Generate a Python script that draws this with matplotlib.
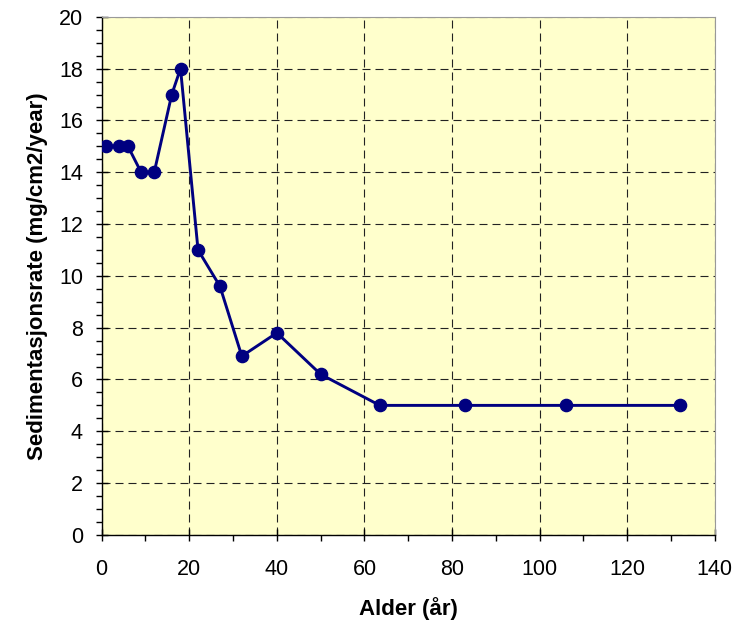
import matplotlib
matplotlib.use("Agg")
import matplotlib.pyplot as plt
from matplotlib.ticker import MultipleLocator

# data
alder = [1, 4, 6, 9, 12, 16, 18, 22, 27, 32, 40, 50, 63.5, 83, 106, 132]
rate = [15, 15, 15, 14, 14, 17, 18, 11, 9.6, 6.9, 7.8, 6.2, 5, 5, 5, 5]

plt.rcParams['font.family'] = ['Liberation Sans', 'DejaVu Sans']

fig = plt.figure(figsize=(7.4, 6.22), dpi=100)
ax = fig.add_axes([0.1374, 0.140, 0.8286, 0.833])
ax.set_facecolor('#FFFFCC')

ax.plot(alder, rate, color='#000080', linewidth=2.1, marker='o',
        markersize=8.8, markerfacecolor='#000080', markeredgecolor='#000080', zorder=3)

ax.set_xlim(0, 140)
ax.set_ylim(0, 20)
ax.xaxis.set_major_locator(MultipleLocator(20))
ax.xaxis.set_minor_locator(MultipleLocator(10))
ax.yaxis.set_major_locator(MultipleLocator(2))
ax.yaxis.set_minor_locator(MultipleLocator(0.5))

ax.grid(True, which='major', color='#222222', linestyle=(0, (7.2, 4.5)), linewidth=0.8)
ax.set_axisbelow(True)

ax.tick_params(which='major', direction='inout', length=9, width=1, labelsize=15.5)
ax.tick_params(axis='x', which='major', pad=13)
ax.tick_params(axis='y', which='major', pad=9)
ax.tick_params(which='minor', direction='out', length=4.5, width=1)

for s in ['top', 'right']:
    ax.spines[s].set_color('#999999')
for s in ['left', 'bottom']:
    ax.spines[s].set_color('black')
    ax.spines[s].set_linewidth(1)

ax.set_xlabel('Alder (år)', fontsize=16, fontweight='bold', labelpad=12)
ax.set_ylabel('Sedimentasjonsrate (mg/cm2/year)', fontsize=16, fontweight='bold', labelpad=8)

fig.savefig('out.png', dpi=100, facecolor='white')
